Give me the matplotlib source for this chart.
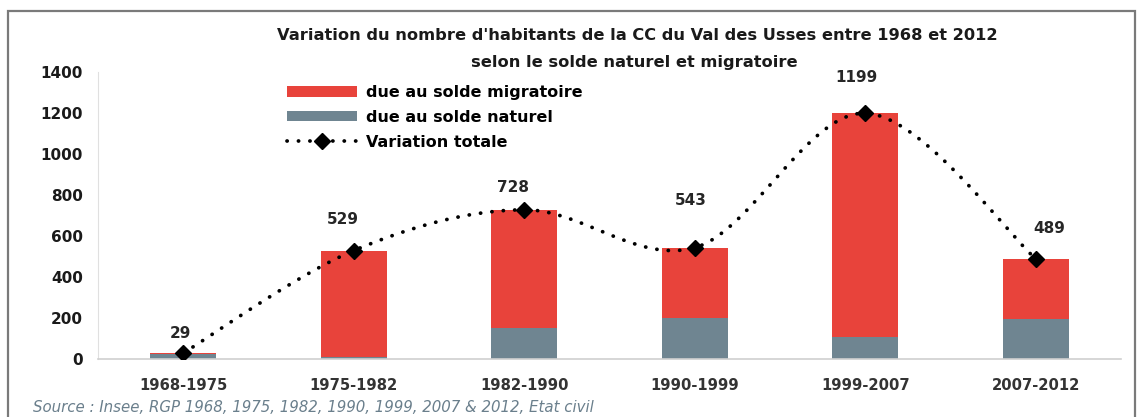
import numpy as np
import matplotlib
matplotlib.use("Agg")
import matplotlib.pyplot as plt
from matplotlib.patches import Rectangle, Patch
from matplotlib.lines import Line2D

plt.rcParams['font.family'] = ['DejaVu Sans']

periods = ["1968-1975", "1975-1982", "1982-1990", "1990-1999", "1999-2007", "2007-2012"]
solde_naturel = [22, 12, 150, 200, 108, 195]
solde_migratoire = [7, 517, 578, 343, 1091, 294]
variation_totale = [29, 529, 728, 543, 1199, 489]
yticks = [0, 200, 400, 600, 800, 1000, 1200, 1400]

title1 = "Variation du nombre d'habitants de la CC du Val des Usses entre 1968 et 2012"
title2 = "selon le solde naturel et migratoire"
source = "Source : Insee, RGP 1968, 1975, 1982, 1990, 1999, 2007 & 2012, Etat civil"

RED = "#E8433B"
GREY = "#6F8591"

W, H = 1139, 417
fig = plt.figure(figsize=(W / 100, H / 100), dpi=100)
fig.patch.set_facecolor("white")

# axes placement (pixels)
left, right, top, bottom = 98, 1121, 72, 359
ax = fig.add_axes([left / W, 1 - bottom / H, (right - left) / W, (bottom - top) / H])

x = np.arange(len(periods))
bw = 0.39
ax.bar(x, solde_naturel, width=bw, color=GREY, zorder=2)
ax.bar(x, solde_migratoire, width=bw, bottom=solde_naturel, color=RED, zorder=2)

# smooth curve (Catmull-Rom style, like Excel smoothed lines) in pixel-proportional space
sx = (right - left) / 6.0
sy = (bottom - top) / 1400.0
P = np.column_stack([x * sx, np.array(variation_totale, float) * sy])
curve = []
n = len(P)
for i in range(n - 1):
    p0 = P[i - 1] if i > 0 else P[i]
    p1 = P[i]
    p2 = P[i + 1]
    p3 = P[i + 2] if i + 2 < n else P[i + 1]
    c1 = p1 + (p2 - p0) / 6.0
    c2 = p2 - (p3 - p1) / 6.0
    t = np.linspace(0, 1, 60)[:, None]
    seg = ((1 - t) ** 3) * p1 + 3 * ((1 - t) ** 2) * t * c1 + 3 * (1 - t) * t ** 2 * c2 + t ** 3 * p2
    curve.append(seg if i == 0 else seg[1:])
curve = np.vstack(curve)
DOT = (0, (0.05, 3.0))
ax.plot(curve[:, 0] / sx, curve[:, 1] / sy, color="black", lw=2.7,
        linestyle=DOT, dash_capstyle="round", zorder=3)
ax.plot(x, variation_totale, linestyle="none", marker="D", ms=8, color="black", zorder=4)

# value labels
offsets = [(-2, 14), (-8, 22), (-8, 16), (-3, 34), (-6, 26), (10, 22)]
for xi, v, (dx, dy) in zip(x, variation_totale, offsets):
    ax.annotate(str(v), (xi, v), xytext=(dx, dy), textcoords="offset points",
                ha="center", va="center", fontsize=11, fontweight="bold", color="#262626")

ax.set_xlim(-0.5, 5.5)
ax.set_ylim(0, 1400)
ax.set_yticks(yticks)
ax.set_yticklabels([str(t) for t in yticks], fontsize=11, fontweight="bold", color="#1a1a1a")
ax.set_xticks(x)
ax.set_xticklabels(periods, fontsize=10.6, fontweight="bold", color="#333333")
ax.tick_params(axis="both", length=0)
ax.tick_params(axis="y", pad=11)
ax.tick_params(axis="x", pad=14)
for s in ["top", "right"]:
    ax.spines[s].set_visible(False)
ax.spines["left"].set_color("#e0e0e0")
ax.spines["bottom"].set_color("#d0d0d0")
ax.spines["bottom"].set_linewidth(1.2)
ax.set_facecolor("none")

# legend
handles = [Patch(facecolor=RED, edgecolor="none"),
           Patch(facecolor=GREY, edgecolor="none"),
           Line2D([], [], color="black", lw=2.7, linestyle=DOT,
                  dash_capstyle="round", marker="D", ms=8)]
labels = ["due au solde migratoire", "due au solde naturel", "Variation totale"]
leg = fig.legend(handles, labels, loc="upper left",
                 bbox_to_anchor=(287 / W, 1 - 85 / H), frameon=False,
                 prop={"weight": "bold", "size": 11.5}, handlelength=4.4, handleheight=0.62,
                 handletextpad=0.55, labelspacing=0.62, borderpad=0, borderaxespad=0)

# titles
fig.text(637 / W, 1 - 35 / H, title1, ha="center", va="center", fontsize=11.7,
         fontweight="bold", color="#1a1a1a")
fig.text(634 / W, 1 - 62 / H, title2, ha="center", va="center", fontsize=11.7,
         fontweight="bold", color="#1a1a1a")

# source
fig.text(33 / W, 1 - 407 / H, source, ha="left", va="center", fontsize=10.8, style="italic",
         color="#6a7f8c")

# frame
fig.patches.append(Rectangle((8 / W, -0.05), (1135 - 8) / W, (1 - 11 / H) + 0.05,
                             transform=fig.transFigure, fill=False,
                             edgecolor="#7a7a7a", lw=1.6, zorder=0))

fig.savefig("out.png", dpi=100)
